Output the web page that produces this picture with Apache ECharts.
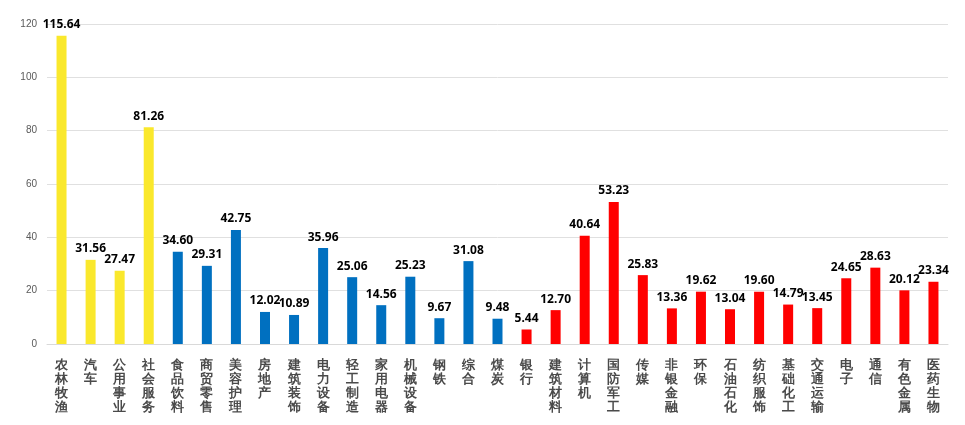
<!DOCTYPE html>
<html><head><meta charset="utf-8">
<script src="https://cdn.jsdelivr.net/npm/echarts@6/dist/echarts.min.js"></script>
<style>html,body{margin:0;padding:0;background:#fff}#c{width:965px;height:425px}</style>
</head><body><div id="c"></div>
<script>
var categories = ['农林牧渔','汽车','公用事业','社会服务','食品饮料','商贸零售','美容护理','房地产','建筑装饰','电力设备','轻工制造','家用电器','机械设备','钢铁','综合','煤炭','银行','建筑材料','计算机','国防军工','传媒','非银金融','环保','石油石化','纺织服饰','基础化工','交通运输','电子','通信','有色金属','医药生物'];
var values = [115.64,31.56,27.47,81.26,34.60,29.31,42.75,12.02,10.89,35.96,25.06,14.56,25.23,9.67,31.08,9.48,5.44,12.70,40.64,53.23,25.83,13.36,19.62,13.04,19.60,14.79,13.45,24.65,28.63,20.12,23.34];
var groups = ['y','y','y','y','b','b','b','b','b','b','b','b','b','b','b','b','r','r','r','r','r','r','r','r','r','r','r','r','r','r','r'];
var groupColors = {y:'#FAE82C', b:'#0070C0', r:'#FF0000'};
var chart = echarts.init(document.getElementById('c'));
chart.setOption({
  animation:false,
  grid:{left:47,right:17,top:24,bottom:81},
  xAxis:{type:'category',data:categories,
    axisLine:{lineStyle:{color:'#d9d9d9'}},axisTick:{show:false},
    axisLabel:{interval:0,margin:14,color:'#4a4a4a',fontSize:13,fontWeight:'bold',lineHeight:14,
      formatter:function(v){return v.split('').join('\n');}}},
  yAxis:{type:'value',min:0,max:120,interval:20,
    axisLine:{show:false},axisTick:{show:false},
    splitLine:{lineStyle:{color:'#e0e0e0'}},
    axisLabel:{color:'#595959',fontSize:10,margin:10}},
  series:[{type:'bar',barWidth:10,
    data:values.map(function(v,i){return {value:v,itemStyle:{color:groupColors[groups[i]]}};}),
    label:{show:true,position:'top',distance:5,color:'#000',fontWeight:'bold',fontSize:12,
      fontFamily:'Noto Sans',
      formatter:function(p){return p.value.toFixed(2);}}}]
});
</script></body></html>
